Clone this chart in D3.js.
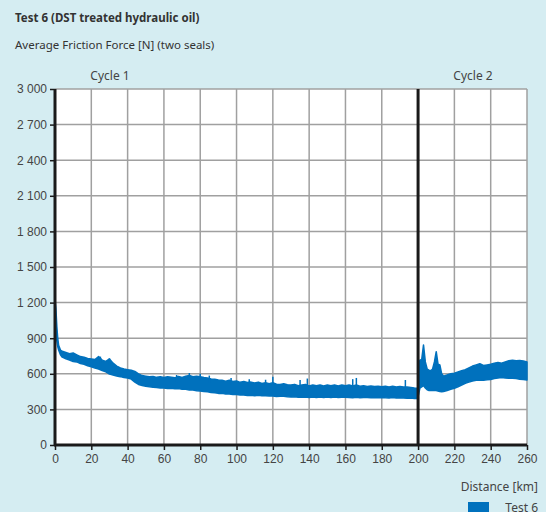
<!DOCTYPE html>
<html>
<head>
<meta charset="utf-8">
<script src="https://cdn.jsdelivr.net/npm/d3@7"></script>
<style>
  body { margin: 0; background: #d5edf2; }
  svg { display: block; font-family: "Noto Sans", sans-serif; }
  .axis text { fill: #444; font-size: 12px; }
</style>
</head>
<body>
<svg id="chart"></svg>
<script>
// Cycle 1 envelope (km, upper/lower friction force in N)
const dist1 = [0, 0.5, 1, 1.5, 2, 3, 4, 6, 8, 10, 12, 14, 16, 18, 20, 22, 24, 26, 28, 30,
  32, 34, 36, 38, 40, 42, 44, 46, 48, 50, 52, 54, 56, 58, 60, 62, 64, 66, 68, 70,
  72, 74, 76, 78, 80, 82, 84, 86, 88, 90, 92, 94, 96, 98, 100, 102, 104, 106, 108, 110,
  112, 114, 116, 118, 120, 122, 124, 126, 128, 130, 132, 134, 136, 138, 140, 142, 144, 146, 148, 150,
  152, 154, 156, 158, 160, 162, 164, 166, 168, 170, 172, 174, 176, 178, 180, 182, 184, 186, 188, 190,
  192, 194, 196, 198, 200];
const upper1 = [1220, 1150, 1000, 900, 840, 800, 790, 780, 770, 775, 760, 745, 740, 730, 725, 720, 745, 715, 705, 725,
  690, 665, 650, 640, 635, 630, 620, 600, 585, 580, 575, 578, 570, 576, 568, 575, 572, 566, 578, 570,
  580, 585, 575, 580, 575, 568, 565, 556, 555, 548, 545, 538, 545, 535, 540, 528, 535, 526, 530, 522,
  530, 518, 525, 517, 525, 513, 510, 516, 508, 505, 511, 500, 505, 510, 498, 505, 499, 506, 498, 505,
  499, 506, 498, 505, 499, 506, 497, 505, 496, 500, 494, 498, 493, 496, 490, 495, 489, 495, 488, 494,
  489, 488, 484, 480, 478];
const lower1 = [1100, 950, 880, 830, 800, 760, 740, 726, 716, 703, 700, 686, 681, 668, 660, 648, 641, 628, 616, 598,
  590, 582, 576, 568, 565, 555, 530, 510, 502, 495, 490, 486, 485, 480, 481, 476, 478, 474, 475, 470,
  470, 464, 463, 458, 455, 450, 448, 443, 440, 435, 435, 430, 430, 426, 425, 422, 422, 418, 420, 415,
  420, 415, 415, 412, 412, 408, 410, 410, 406, 405, 407, 403, 403, 404, 400, 405, 400, 404, 401, 405,
  400, 404, 401, 402, 402, 401, 398, 402, 398, 400, 401, 398, 400, 398, 401, 398, 396, 400, 396, 399,
  396, 394, 395, 391, 392];

// Cycle 2 envelope
const dist2 = [200.2, 201, 202, 203, 204, 205, 206, 207, 208, 209, 210, 211, 212, 213, 214, 216, 218, 220,
  222, 224, 226, 228, 230, 232, 234, 236, 238, 240, 242, 244, 246, 248, 250, 252, 254, 256, 258, 260];
const upper2 = [640, 715, 720, 843, 700, 640, 630, 625, 640, 700, 786, 680, 674, 600, 580, 590, 600, 605,
  615, 625, 635, 650, 665, 675, 685, 670, 675, 680, 690, 695, 690, 700, 710, 715, 710, 712, 708, 700];
const lower2 = [420, 480, 490, 500, 480, 465, 460, 460, 462, 460, 460, 455, 450, 448, 450, 460, 470, 478,
  490, 505, 520, 530, 540, 545, 548, 545, 550, 552, 560, 565, 568, 565, 562, 562, 560, 555, 552, 548];

// Isolated spikes above the band
const spikeKm = [25, 30, 67, 74, 80, 85, 97, 107, 116, 120, 135, 139, 164, 166, 193];
const spikeVal = [745, 730, 590, 607, 600, 585, 565, 555, 550, 576, 548, 560, 555, 565, 548];

const xTicks = d3.range(0, 261, 20);
const yTicks = d3.range(0, 3001, 300);

const W = 546, H = 512;
const margin = {top: 89, right: 19, bottom: 67, left: 55};
const width = W - margin.left - margin.right;
const height = H - margin.top - margin.bottom;
const blue = "#0071bd";

const svg = d3.select("#chart").attr("width", W).attr("height", H);

svg.append("text").attr("x", 15).attr("y", 22)
  .style("font-size", "11.5px").style("font-weight", "bold").attr("fill", "#333")
  .text("Test 6 (DST treated hydraulic oil)");
svg.append("text").attr("x", 15).attr("y", 49)
  .style("font-size", "11.5px").attr("fill", "#333")
  .text("Average Friction Force [N] (two seals)");

const g = svg.append("g").attr("transform", `translate(${margin.left},${margin.top})`);

const x = d3.scaleLinear().domain([0, 260]).range([0, width]);
const y = d3.scaleLinear().domain([0, 3000]).range([height, 0]);

g.append("rect").attr("width", width).attr("height", height).attr("fill", "#fff");

// Grid
g.append("g").selectAll("line").data(xTicks.filter(d => d > 0)).join("line")
  .attr("x1", d => x(d)).attr("x2", d => x(d)).attr("y1", 0).attr("y2", height)
  .attr("stroke", "#a0a0a0").attr("stroke-width", 1.5);
g.append("g").selectAll("line").data(yTicks.filter(d => d > 0)).join("line")
  .attr("x1", 0).attr("x2", width).attr("y1", d => y(d)).attr("y2", d => y(d))
  .attr("stroke", "#a0a0a0").attr("stroke-width", 1.5);

// Bands
const area = d3.area().x(d => x(d[0])).y0(d => y(d[2])).y1(d => y(d[1]));
const band1 = dist1.map((d, i) => [d, upper1[i], lower1[i]]);
const band2 = dist2.map((d, i) => [d, upper2[i], lower2[i]]);
[band1, band2].forEach(b => {
  g.append("path").datum(b).attr("d", area)
    .attr("fill", blue).attr("stroke", blue).attr("stroke-width", 1.5).attr("stroke-linejoin", "round");
});

// Spikes
g.append("g").selectAll("line").data(spikeKm).join("line")
  .attr("x1", d => x(d)).attr("x2", d => x(d))
  .attr("y1", (d, i) => y(spikeVal[i]))
  .attr("y2", (d, i) => y(spikeVal[i] - 60))
  .attr("stroke", blue).attr("stroke-width", 1.5);

// Cycle divider
g.append("line").attr("x1", x(200)).attr("x2", x(200)).attr("y1", 0).attr("y2", height)
  .attr("stroke", "#1a1a1a").attr("stroke-width", 3);

// Axes
const yAxis = d3.axisLeft(y).tickValues(yTicks).tickSize(5).tickPadding(3)
  .tickFormat(d => d >= 1000 ? d3.format(",")(d).replace(",", " ") : d);
const yAxisG = g.append("g").attr("class", "axis").call(yAxis);
yAxisG.select(".domain").remove();
yAxisG.selectAll(".tick line").attr("stroke", "#1a1a1a").attr("stroke-width", 1.5);

const xAxis = d3.axisBottom(x).tickValues(xTicks).tickSize(5).tickPadding(4);
const xAxisG = g.append("g").attr("class", "axis").attr("transform", `translate(0,${height})`).call(xAxis);
xAxisG.select(".domain").remove();
xAxisG.selectAll(".tick line").attr("stroke", "#1a1a1a").attr("stroke-width", 1.5);

g.append("line").attr("x1", 0).attr("x2", 0).attr("y1", 0).attr("y2", height + 1)
  .attr("stroke", "#1a1a1a").attr("stroke-width", 3);
g.append("line").attr("x1", -1).attr("x2", width).attr("y1", height).attr("y2", height)
  .attr("stroke", "#1a1a1a").attr("stroke-width", 3);

// Cycle labels
svg.append("text").attr("x", 110).attr("y", 80).attr("text-anchor", "middle")
  .style("font-size", "12px").attr("fill", "#444").text("Cycle 1");
svg.append("text").attr("x", 473).attr("y", 80).attr("text-anchor", "middle")
  .style("font-size", "12px").attr("fill", "#444").text("Cycle 2");

// Axis title and legend
svg.append("text").attr("x", 538).attr("y", 491).attr("text-anchor", "end")
  .style("font-size", "12px").attr("fill", "#444").text("Distance [km]");
svg.append("rect").attr("x", 468).attr("y", 502).attr("width", 21).attr("height", 12).attr("fill", blue);
svg.append("text").attr("x", 538).attr("y", 512).attr("text-anchor", "end")
  .style("font-size", "12px").attr("fill", "#444").text("Test 6");
</script>
</body>
</html>
